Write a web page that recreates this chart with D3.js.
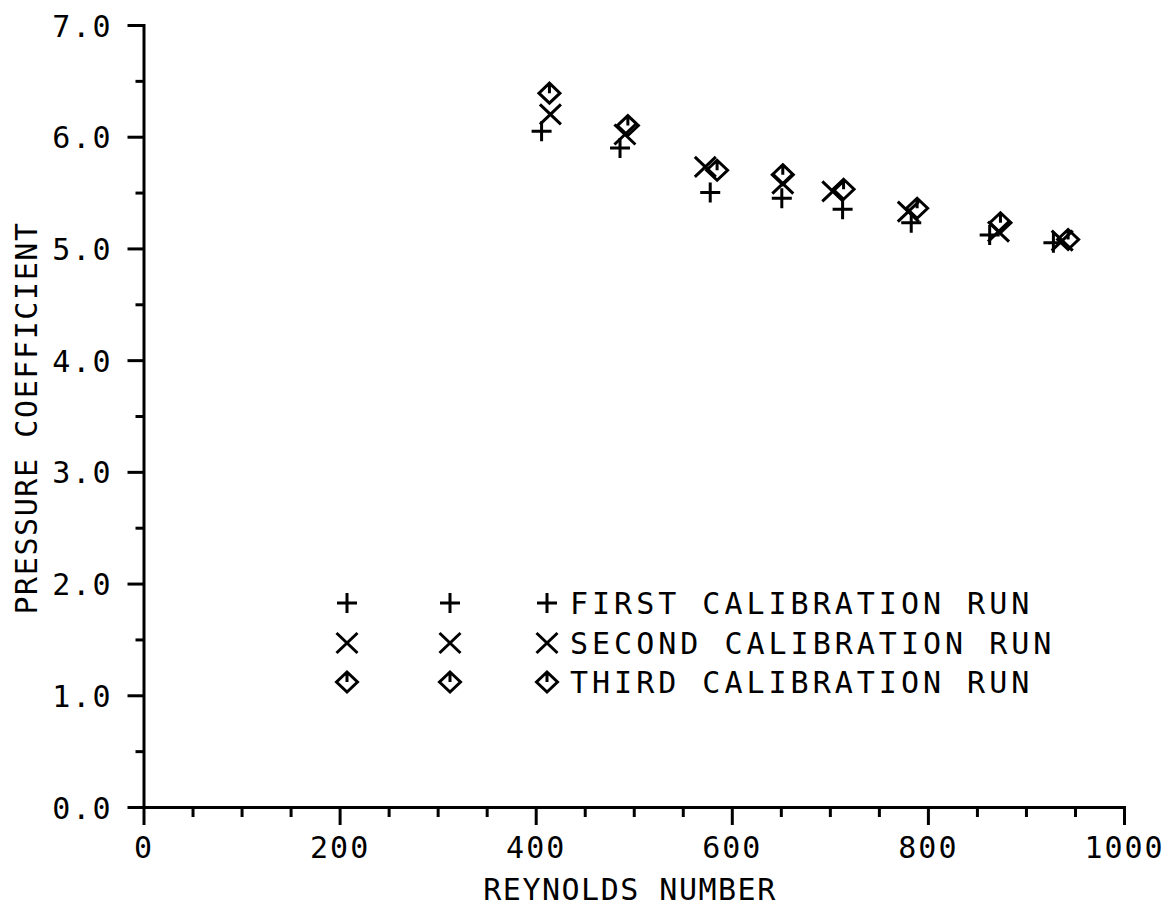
<!DOCTYPE html>
<html>
<head>
<meta charset="utf-8">
<script src="https://cdn.jsdelivr.net/npm/d3@7"></script>
<style>
  body { margin: 0; background: #fff; }
  svg text { font-family: "DejaVu Sans Mono", "Liberation Mono", monospace; fill: #000; }
</style>
</head>
<body>
<svg id="chart" width="1164" height="907"></svg>
<script>
// Calibration runs: Reynolds number vs. pressure coefficient
const reynoldsRun1 = [406, 486, 578, 651, 713, 783, 863, 928];
const pressureRun1 = [6.05, 5.90, 5.50, 5.45, 5.35, 5.23, 5.12, 5.05];

const reynoldsRun2 = [415, 491, 573, 652, 703, 780, 872, 937];
const pressureRun2 = [6.20, 6.02, 5.73, 5.58, 5.51, 5.33, 5.15, 5.07];

const reynoldsRun3 = [414, 494, 585, 652, 714, 789, 874, 943];
const pressureRun3 = [6.39, 6.10, 5.70, 5.66, 5.53, 5.36, 5.23, 5.08];

const runNames = ["FIRST CALIBRATION RUN", "SECOND CALIBRATION RUN", "THIRD CALIBRATION RUN"];
const markerKinds = ["plus", "cross", "diamond"];

const xMajorTicks = [0, 200, 400, 600, 800, 1000];
const xMinorTicks = [50, 100, 150, 250, 300, 350, 450, 500, 550, 650, 700, 750, 850, 900, 950];
const yMajorTicks = [0, 1, 2, 3, 4, 5, 6, 7];
const yMinorTicks = [0.5, 1.5, 2.5, 3.5, 4.5, 5.5, 6.5];

const xTitle = "REYNOLDS NUMBER";
const yTitle = "PRESSURE COEFFICIENT";

const runs = [
  { name: runNames[0], kind: markerKinds[0], x: reynoldsRun1, y: pressureRun1 },
  { name: runNames[1], kind: markerKinds[1], x: reynoldsRun2, y: pressureRun2 },
  { name: runNames[2], kind: markerKinds[2], x: reynoldsRun3, y: pressureRun3 }
];

const svg = d3.select("#chart");
const x = d3.scaleLinear().domain([0, 1000]).range([143.5, 1124]);
const y = d3.scaleLinear().domain([0, 7]).range([807, 25]);

// marker shapes, centred on the origin
const markerPath = {
  plus: "M-10,0H10M0,-10V10",
  cross: "M-10.5,-10L10.5,10M-10.5,10L10.5,-10",
  diamond: "M0,-10L10.5,0L0,10L-10.5,0Z M0,-10V0"
};

const tickFont = 30;

// y axis: major ticks with labels, minor ticks without
const yAxisG = svg.append("g").attr("transform", `translate(${x(0)},0)`);
yAxisG.call(d3.axisLeft(y).tickValues(yMajorTicks).tickSize(16).tickSizeOuter(0)
  .tickPadding(15).tickFormat(d3.format(".1f")));
yAxisG.append("g").call(d3.axisLeft(y).tickValues(yMinorTicks).tickSize(8).tickSizeOuter(0).tickFormat(""))
  .select(".domain").remove();

// x axis
const xAxisG = svg.append("g").attr("transform", `translate(0,${y(0)})`);
xAxisG.call(d3.axisBottom(x).tickValues(xMajorTicks).tickSize(18).tickSizeOuter(0)
  .tickPadding(12).tickFormat(d3.format("d")));
xAxisG.append("g").call(d3.axisBottom(x).tickValues(xMinorTicks).tickSize(10).tickSizeOuter(0).tickFormat(""))
  .select(".domain").remove();

svg.selectAll(".domain").attr("stroke", "#000").attr("stroke-width", 3).attr("stroke-linecap", "square");
svg.selectAll(".tick line").attr("stroke", "#000").attr("stroke-width", 3);
svg.selectAll(".tick text")
  .attr("font-size", tickFont)
  .attr("font-family", "DejaVu Sans Mono")
  .attr("letter-spacing", 2)
  .attr("fill", "#000");
yAxisG.selectAll(".tick text").attr("dy", "0.37em");

// axis titles
svg.append("text")
  .attr("x", 630).attr("y", 900)
  .attr("text-anchor", "middle")
  .attr("font-size", tickFont)
  .attr("letter-spacing", 1.5)
  .text(xTitle);

svg.append("text")
  .attr("transform", "translate(37,418) rotate(-90)")
  .attr("text-anchor", "middle")
  .attr("font-size", tickFont)
  .attr("letter-spacing", 1.6)
  .text(yTitle);

// data markers
const plot = svg.append("g");
runs.forEach(run => {
  plot.append("g")
    .selectAll("path")
    .data(run.x.map((v, i) => [v, run.y[i]]))
    .join("path")
    .attr("transform", d => `translate(${x(d[0])},${y(d[1])})`)
    .attr("d", markerPath[run.kind])
    .attr("fill", "none")
    .attr("stroke", "#000")
    .attr("stroke-width", 3);
});

// legend: symbol repeated along a short run, then the label
const legendRowY = [603, 643, 682];
const legendSymbolX = [347, 450, 547];
const legend = svg.append("g");
runs.forEach((run, i) => {
  legendSymbolX.forEach(sx => {
    legend.append("path")
      .attr("transform", `translate(${sx},${legendRowY[i]})`)
      .attr("d", markerPath[run.kind])
      .attr("fill", "none")
      .attr("stroke", "#000")
      .attr("stroke-width", 3);
  });
  legend.append("text")
    .attr("x", 570)
    .attr("y", legendRowY[i] + 11)
    .attr("font-size", tickFont)
    .attr("letter-spacing", 4.0)
    .text(run.name);
});
</script>
</body>
</html>
